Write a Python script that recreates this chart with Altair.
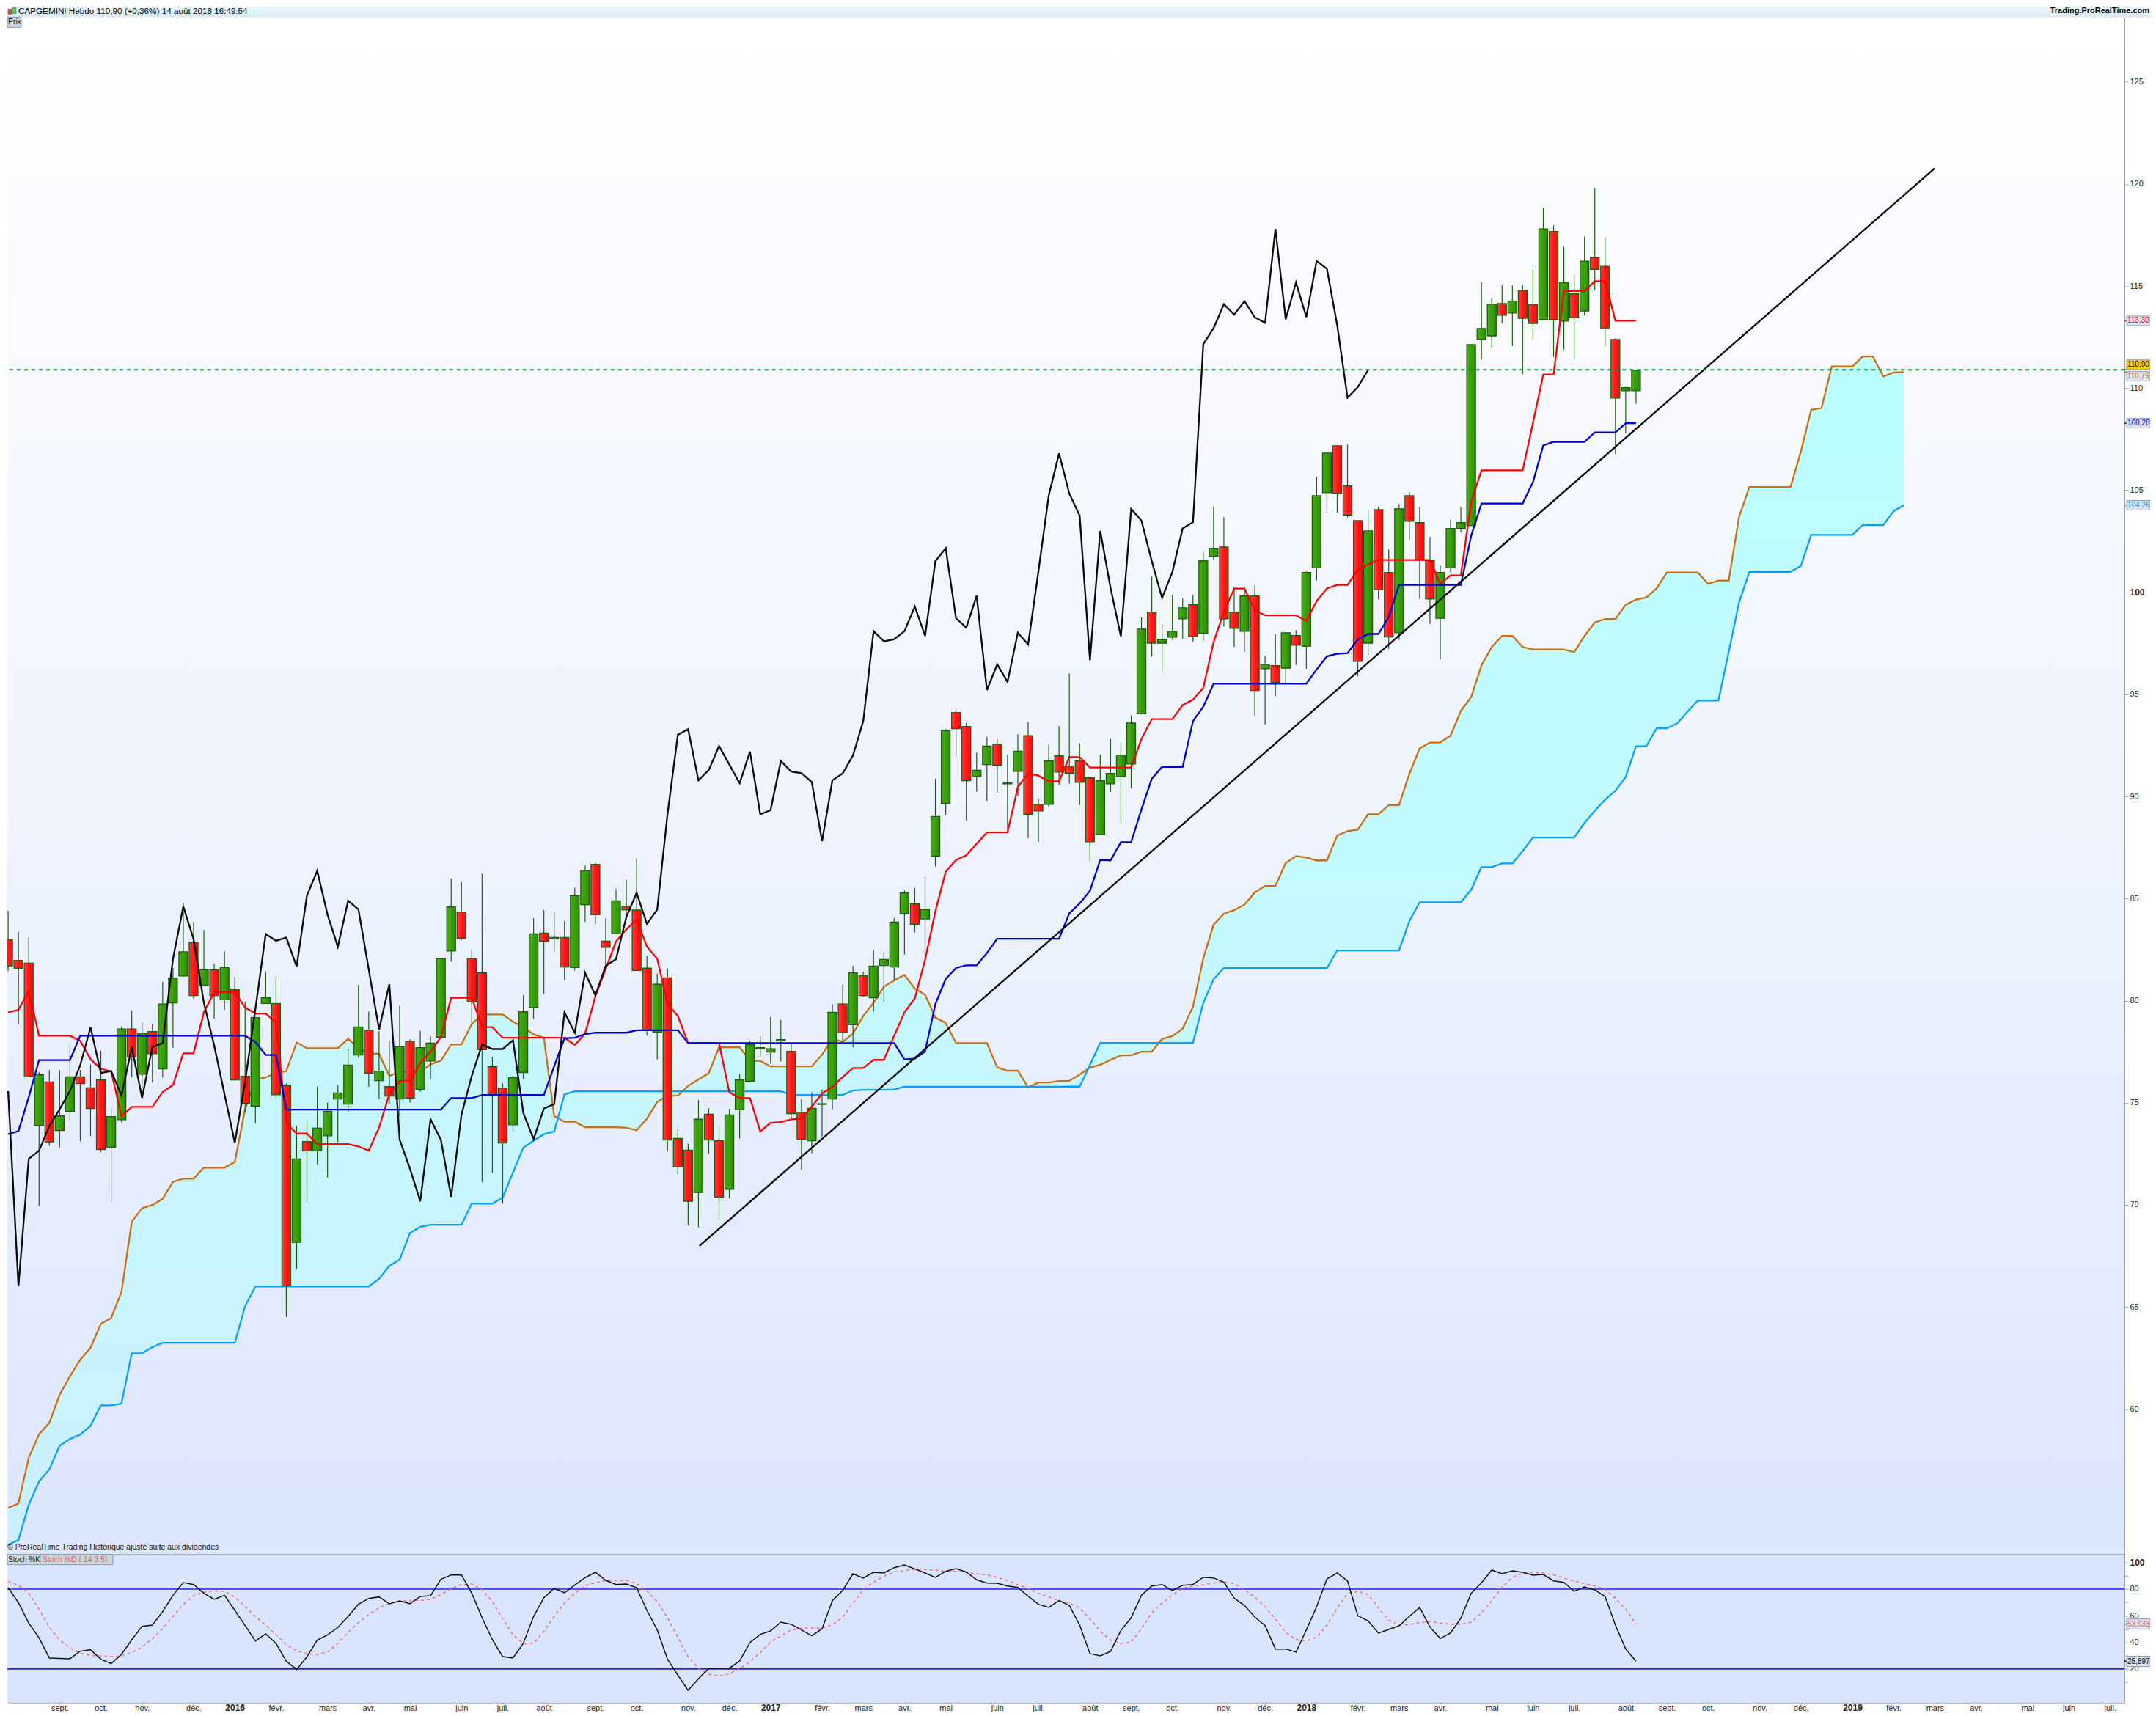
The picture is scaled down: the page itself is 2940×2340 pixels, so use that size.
import altair as alt
import pandas as pd

up = ("RRRGRGGRRR" "GGRGRGGGRG" "RGRRGGRRGR" "GGGGGRGRGR" "GGGGRRRRRG" "GGRGRGGRRG" "RRRGRRRGRR" "GGGRGGRRGG"
      "GRGRGGGGRG" "GGRRGGRGGR" "RGRRRRGGGG" "GRGGGRGGRR" "GRGRGRGGGR" "RRGRRGRRRG" "GGGGGRGRRG" "RGRGRRRGG")

body_top = [83.01,81.97,81.84,76.37,76.02,74.36,76.27,76.27,75.73,76.12,
74.32,78.61,78.61,78.40,78.49,79.83,81.11,82.39,82.84,81.51,
81.51,81.62,80.54,76.30,79.17,80.14,79.86,75.84,72.25,73.10,
73.75,74.57,75.48,76.84,78.71,78.56,76.55,75.79,77.74,78.00,
77.70,77.92,82.05,84.59,84.34,82.05,81.36,76.76,75.72,76.23,
79.46,83.27,83.31,83.09,83.09,85.14,86.37,86.68,82.91,84.89,
84.61,84.44,81.59,80.80,81.12,73.25,72.68,74.19,74.44,73.14,
74.40,76.12,77.85,77.70,77.64,78.09,77.52,74.54,74.72,74.95,
79.43,79.83,81.36,81.23,81.69,82.02,83.85,85.28,84.74,84.46,
89.02,93.22,94.11,93.43,91.28,92.47,92.57,90.66,92.22,92.98,
89.61,91.74,91.99,91.48,91.74,90.92,90.77,91.13,92.02,93.60,
98.20,99.03,97.68,98.09,99.24,99.39,101.55,102.16,102.22,99.03,
99.82,99.82,96.47,96.41,98.02,97.88,100.97,104.73,106.82,107.18,
105.21,103.51,103.01,104.05,100.97,104.09,104.73,103.41,101.55,100.97,
103.13,103.41,112.13,112.92,114.11,114.14,114.26,114.79,114.08,117.80,
117.67,115.18,114.62,116.22,116.40,115.97,112.38,110.02,110.88]

body_bot = [81.70,81.59,76.27,73.89,73.08,73.64,74.57,75.94,74.72,72.71,
72.82,74.17,77.24,76.40,77.40,76.66,79.89,81.21,80.25,80.75,
80.25,80.04,76.12,74.98,74.83,79.86,75.39,66.03,68.16,72.64,
72.64,73.38,75.18,74.93,77.34,76.45,76.08,75.33,75.18,75.23,
75.65,77.04,78.21,82.43,83.06,79.93,77.60,75.39,73.03,73.92,
76.48,79.66,82.91,83.02,81.65,81.62,84.70,84.21,82.61,83.27,
84.44,81.48,78.56,78.46,73.17,71.85,70.17,70.60,73.17,70.38,
70.76,74.65,76.05,77.64,77.48,78.03,74.47,73.20,73.14,74.92,
75.18,78.43,78.82,80.25,80.14,81.72,81.65,84.27,83.74,84.00,
87.08,89.66,93.32,90.77,90.98,91.56,91.53,90.62,91.23,89.12,
89.29,89.61,91.19,91.13,90.69,87.78,88.13,90.62,90.98,91.59,
94.06,97.51,97.51,97.80,98.70,97.84,97.99,101.76,98.70,98.23,
98.09,95.19,96.26,95.58,96.29,97.41,97.36,101.20,104.88,104.84,
103.78,96.62,97.51,100.12,97.81,98.02,103.48,101.58,99.67,98.73,
101.20,103.13,103.27,112.38,112.56,113.57,113.68,113.42,113.17,113.35,
113.35,113.28,113.45,113.78,115.82,112.95,109.51,109.87,109.87]

wick_top = [84.40,83.39,83.09,76.50,76.60,76.60,77.86,76.61,76.88,77.54,
74.72,78.74,79.52,78.98,78.86,80.92,81.60,84.76,83.86,83.46,
81.81,82.42,81.17,79.95,79.20,81.42,81.20,75.94,73.87,74.13,
75.79,75.01,75.84,77.61,80.77,79.47,78.49,78.04,79.75,78.10,
78.53,78.25,82.05,85.98,85.81,82.48,86.22,77.24,75.94,76.30,
80.26,84.04,84.43,84.37,83.92,85.53,86.62,86.74,84.04,85.47,
85.93,86.99,82.20,81.33,81.56,73.70,73.01,75.14,74.74,73.84,
74.71,76.42,78.03,78.28,79.19,79.06,77.86,75.17,75.51,75.65,
79.84,80.77,81.71,81.41,82.45,82.36,84.04,85.40,85.52,86.08,
90.86,93.30,94.31,93.60,92.16,92.92,92.81,92.05,93.05,93.67,
89.89,92.54,93.45,96.02,92.61,90.92,92.05,92.82,92.64,93.98,
98.79,100.77,98.44,99.87,99.69,99.87,101.99,104.21,103.68,100.27,
100.27,100.34,96.89,97.96,98.02,98.14,101.03,105.66,106.86,107.18,
107.23,103.51,104.02,104.20,102.10,104.33,104.90,104.18,102.71,101.31,
103.56,104.18,112.13,115.20,114.41,115.06,115.03,115.06,115.85,118.83,
117.97,116.92,115.52,117.43,119.80,117.38,112.44,110.06,110.90]

wick_bot = [81.45,78.82,76.27,69.94,72.89,72.82,74.11,73.11,73.37,72.59,
70.12,74.05,76.24,75.72,75.99,76.24,77.68,81.17,80.10,80.75,
79.11,79.55,76.12,74.53,73.99,79.86,75.18,64.51,66.85,70.03,
71.97,71.33,73.07,74.53,77.21,75.78,75.18,74.95,74.31,75.01,
75.54,76.14,78.21,81.91,82.97,78.85,71.12,71.55,70.06,73.59,
76.17,79.10,80.33,82.36,80.99,81.47,83.86,83.76,81.78,83.27,
84.00,81.48,78.30,77.12,72.62,71.51,69.00,68.90,72.50,69.30,
70.32,73.25,76.05,77.27,76.90,77.02,74.20,71.70,72.53,73.34,
74.68,77.86,77.72,80.19,79.46,79.95,80.99,82.26,83.34,82.18,
86.57,89.10,91.95,88.84,90.24,89.79,90.19,88.26,90.01,87.96,
87.78,89.47,90.56,90.62,89.58,86.78,88.13,90.22,88.68,90.40,
94.01,96.86,96.13,97.66,97.71,97.57,97.62,101.58,98.33,97.33,
97.08,93.95,93.52,94.91,95.55,96.44,96.26,100.59,103.87,103.90,
103.66,95.89,96.93,99.66,97.23,97.66,102.56,99.67,98.45,96.72,
100.97,102.93,103.27,111.40,112.01,113.17,112.07,110.69,112.37,113.35,
111.53,111.89,111.40,113.57,114.81,112.05,106.77,107.78,109.24]

tenkan = [79.43,79.55,80.48,78.28,78.28,78.28,78.28,78.03,77.13,76.66,
76.54,74.34,74.80,74.80,74.80,75.53,75.87,77.42,77.42,79.44,
80.41,80.41,80.41,79.66,79.37,79.37,78.92,74.01,73.49,73.49,
72.97,72.97,72.97,72.97,72.86,72.65,73.78,75.42,76.06,76.09,
76.94,77.51,78.21,80.14,80.14,80.14,78.70,78.70,78.18,78.18,
78.18,78.18,78.18,78.18,78.18,77.83,78.39,80.22,81.56,82.90,
83.49,83.98,82.64,82.05,79.84,79.25,77.92,77.92,77.92,77.92,
75.51,75.23,75.23,73.59,74.02,74.05,74.19,74.22,74.81,75.45,
75.78,76.26,76.70,76.70,77.10,77.10,78.28,79.43,80.11,82.00,
84.38,86.32,86.89,87.12,87.69,88.24,88.24,88.24,90.46,91.13,
91.02,90.74,90.74,91.93,91.93,91.42,91.42,91.42,91.42,91.42,
92.82,93.79,93.79,93.79,94.48,94.74,95.32,97.56,99.05,100.18,
100.18,99.11,98.87,98.87,98.87,98.87,98.60,99.57,100.19,100.36,
100.36,101.10,101.37,101.58,101.58,101.58,101.58,101.58,101.58,100.42,
100.83,100.83,104.44,105.97,105.97,105.97,105.97,105.97,108.30,110.67,
110.67,114.76,114.76,114.76,115.24,115.24,113.30,113.30,113.30]

kijun = [73.46,73.61,75.27,77.09,77.09,77.09,77.09,78.28,78.28,78.28,
78.28,78.28,78.28,78.28,78.28,78.28,78.28,78.28,78.28,78.28,
78.28,78.28,78.28,78.28,77.98,77.34,77.34,74.66,74.66,74.66,
74.66,74.66,74.66,74.66,74.66,74.66,74.66,74.66,74.66,74.66,
74.66,74.66,74.66,75.23,75.23,75.23,75.38,75.38,75.38,75.38,
75.38,75.38,75.38,76.79,78.16,78.18,78.36,78.43,78.43,78.43,
78.43,78.55,78.55,78.55,78.55,78.55,77.92,77.92,77.92,77.92,
77.92,77.92,77.92,77.92,77.92,77.92,77.92,77.92,77.92,77.92,
77.92,77.92,77.92,77.92,77.92,77.92,77.92,77.12,77.16,77.51,
79.84,81.06,81.60,81.73,81.73,82.33,83.03,83.03,83.03,83.03,
83.03,83.03,83.03,84.28,84.76,85.38,86.89,86.87,87.76,87.76,
89.37,90.87,91.45,91.45,91.45,93.69,94.40,95.52,95.52,95.52,
95.52,95.52,95.52,95.52,95.52,95.52,95.52,96.22,96.86,96.99,
97.02,97.69,97.96,97.96,98.79,100.36,100.36,100.36,100.36,100.36,
100.36,100.36,102.77,104.35,104.35,104.35,104.35,104.35,105.40,107.19,
107.37,107.37,107.37,107.37,107.83,107.83,107.83,108.28,108.28]

span_a = [55.16,55.37,57.61,58.76,59.32,60.70,61.60,62.41,63.00,64.17,
64.46,65.73,69.17,69.84,69.99,70.29,71.13,71.28,71.28,71.82,
71.82,71.82,72.10,74.68,76.14,76.24,76.46,76.55,77.95,77.67,
77.67,77.67,77.67,78.13,77.68,77.43,77.39,76.32,76.52,76.52,
76.52,76.88,77.06,77.85,77.85,78.85,79.32,79.32,79.32,78.97,
78.70,78.35,78.18,74.34,74.07,74.07,73.80,73.80,73.80,73.80,
73.77,73.65,74.22,75.04,75.33,75.35,75.82,76.14,76.45,77.72,
77.72,77.72,77.05,77.05,76.78,76.78,76.78,76.78,76.78,77.36,
78.15,77.98,78.39,79.25,79.89,80.69,80.99,81.26,80.59,80.29,
79.17,78.91,77.92,77.92,77.92,77.92,76.73,76.57,76.57,75.75,
75.99,75.99,76.06,76.07,76.38,76.72,76.86,77.10,77.32,77.32,
77.50,77.50,78.12,78.26,78.63,79.70,82.07,83.72,84.26,84.43,
84.71,85.30,85.62,85.62,86.74,87.08,87.01,86.87,86.87,88.09,
88.30,88.38,89.13,89.13,89.58,89.58,91.11,92.35,92.64,92.65,
92.98,94.19,94.87,96.42,97.32,97.86,97.86,97.32,97.20,97.20,
97.20,97.20,97.07,97.86,98.53,98.69,98.69,99.39,99.64,99.75,
100.19,100.97,100.97,100.97,100.97,100.41,100.58,100.58,103.69,105.16,
105.16,105.16,105.16,105.16,106.89,108.94,109.02,111.06,111.06,111.06,
111.55,111.55,110.57,110.77,110.79]

span_b = [53.36,53.58,55.31,56.45,57.04,58.21,58.53,58.75,59.18,60.18,
60.18,60.26,62.73,62.73,63.03,63.24,63.24,63.24,63.24,63.24,
63.24,63.24,63.24,65.03,66.00,66.00,66.00,66.00,66.00,66.00,
66.00,66.00,66.00,66.00,66.00,66.00,66.37,67.01,67.31,68.62,
68.92,69.02,69.02,69.02,69.02,70.06,70.06,70.06,70.36,71.58,
72.80,73.14,73.46,73.59,75.41,75.56,75.56,75.56,75.56,75.56,
75.56,75.56,75.56,75.56,75.56,75.56,75.56,75.56,75.56,75.56,
75.56,75.56,75.56,75.56,75.56,75.56,75.38,75.38,75.38,75.38,
75.38,75.38,75.60,75.63,75.63,75.63,75.65,75.78,75.78,75.78,
75.78,75.78,75.78,75.78,75.78,75.78,75.78,75.78,75.78,75.78,
75.78,75.78,75.78,75.79,75.79,76.86,77.93,77.93,77.93,77.93,
77.93,77.93,77.93,77.93,77.93,77.93,79.89,81.05,81.59,81.59,
81.59,81.59,81.59,81.59,81.59,81.59,81.59,81.59,81.59,82.46,
82.46,82.46,82.46,82.46,82.46,82.46,83.89,84.82,84.82,84.82,
84.82,84.82,85.43,86.54,86.54,86.72,86.72,87.32,87.99,87.99,
87.99,87.99,87.99,88.70,89.30,89.84,90.28,90.95,92.46,92.46,
93.34,93.34,93.58,94.15,94.70,94.70,94.70,97.08,99.50,101.00,
101.00,101.00,101.00,101.00,101.29,102.81,102.81,102.81,102.81,102.81,
103.29,103.29,103.29,103.97,104.26]

chikou = [75.57,66.01,72.25,72.65,73.86,74.68,75.57,76.84,78.70,76.46,
76.55,75.35,77.73,75.24,77.73,77.92,82.05,84.61,83.01,79.89,
77.80,75.42,73.04,76.02,79.59,83.27,82.93,83.09,81.67,85.14,
86.36,84.21,82.64,84.89,84.47,81.53,78.59,80.81,73.19,71.77,
70.17,74.19,73.19,70.39,74.42,76.32,77.85,77.63,77.63,78.06,
74.50,73.22,74.72,74.93,79.43,78.43,81.36,80.26,81.71,82.03,
84.09,85.28,83.76,84.46,89.15,93.02,93.30,90.79,91.29,92.47,
91.56,90.65,92.20,89.13,89.33,91.74,91.22,91.14,90.71,87.81,
90.79,91.13,92.01,93.70,98.10,97.60,97.70,98.10,99.30,97.87,
101.53,102.16,98.73,98.27,99.83,95.21,96.47,95.61,98.02,97.44,
101.03,104.74,106.80,104.83,103.76,96.67,103.01,100.21,97.85,104.08,
103.51,101.53,99.72,101.00,103.13,103.43,112.15,112.94,114.11,113.60,
114.26,113.47,113.20,117.80,113.37,115.18,113.48,116.23,115.84,113.07,
109.53,110.05,110.89]

stoch_k = [81.08,69.89,54.47,43.46,28.23,27.87,27.68,33.37,34.47,27.31,
24.01,30.98,41.99,52.09,53.00,63.10,75.39,84.93,83.47,76.86,
72.27,75.39,64.01,52.64,41.08,46.40,39.24,25.85,19.61,29.15,
41.63,45.66,51.17,59.43,68.60,73.01,74.11,68.97,71.17,68.97,
74.47,75.02,87.32,90.62,90.62,76.86,58.51,41.99,29.33,28.23,
39.24,59.43,73.56,80.53,77.23,83.10,88.60,92.64,86.59,83.47,
83.83,81.08,64.01,49.33,27.31,15.39,4.01,12.63,20.34,20.53,
20.53,26.03,39.79,46.03,48.60,55.21,53.56,49.33,44.93,50.25,
71.35,79.06,91.54,88.24,92.64,92.09,96.13,98.15,95.21,92.09,
88.79,93.37,95.39,92.82,86.95,84.57,84.38,82.36,81.26,74.66,
68.60,66.22,71.35,67.68,53.00,31.54,29.88,33.19,48.97,58.51,
75.39,82.36,83.47,78.88,82.92,83.47,88.97,88.42,85.12,73.19,
67.68,59.06,52.64,35.02,35.02,32.64,49.33,66.77,87.69,92.09,
86.03,59.98,56.12,46.95,49.70,52.45,59.43,66.22,51.54,42.91,
47.13,58.14,76.86,84.75,94.29,91.54,93.74,92.64,90.44,90.99,
86.22,85.12,78.33,81.63,79.43,74.47,53.00,35.02,25.90]

stoch_d = [85.67,82.92,76.86,64.93,51.17,41.99,35.57,31.90,30.25,29.70,
29.33,29.70,32.27,36.49,42.91,50.25,59.43,68.60,75.02,77.59,
78.69,78.33,74.11,66.77,59.43,53.00,45.66,38.32,33.74,31.35,
30.98,32.82,39.24,47.50,54.84,60.90,65.85,69.34,70.99,71.35,
71.72,72.27,75.94,80.16,83.47,83.83,79.61,70.44,57.59,45.66,
39.24,39.24,48.42,59.43,69.52,76.86,82.73,84.93,86.40,86.59,
86.40,84.20,78.69,70.44,58.51,43.83,29.15,20.34,15.94,14.84,
16.30,20.34,25.48,32.45,40.16,44.75,49.33,50.62,50.62,50.62,
53.37,58.88,69.52,79.61,85.12,89.70,92.82,93.93,94.84,94.84,
94.29,93.37,93.37,92.46,91.54,90.62,88.79,86.40,83.28,80.53,
76.86,74.11,71.35,69.52,65.85,57.59,48.42,41.63,39.24,40.16,
50.25,62.18,69.52,75.58,80.53,82.36,83.28,84.57,85.30,84.20,
79.61,74.11,66.77,57.59,47.50,41.99,41.08,43.83,53.00,65.85,
76.86,78.33,75.94,65.85,56.67,53.00,53.37,54.84,55.76,54.47,
53.56,53.56,55.21,62.18,71.35,81.45,88.79,91.91,92.46,92.09,
90.62,88.24,86.03,84.20,82.36,79.61,73.19,64.93,53.63]

trend_i = [67.1, 187.0]
trend_p = [67.99, 120.77]
last_price = 110.90

month_ticks = [5,9,13,18,22,26,31,35,39,44,48,52,57,61,66,70,74,79,83,87,91,96,100,105,109,113,118,122,126,
               131,135,139,144,148,152,157,161,165,170,174,179,183,187,191,196,200,204]
month_labels = ["sept.","oct.","nov.","déc.","2016","févr.","mars","avr.","mai","juin","juil.","août","sept.","oct.","nov.","déc.",
                "2017","févr.","mars","avr.","mai","juin","juil.","août","sept.","oct.","nov.","déc.",
                "2018","févr.","mars","avr.","mai","juin","juil.","août","sept.","oct.","nov.","déc.",
                "2019","févr.","mars","avr.","mai","juin","juil."]
year_ticks = [22, 74, 126, 179]
price_ticks = list(range(60, 130, 5))
stoch_ticks = list(range(10, 110, 10))

price_tags = [("113,30", 113.30, 113.30, "#ff0000", "#d8e2f2"),
              ("110,90", 110.90, 111.15, "#000000", "#ffcc00"),
              ("110,79", 110.79, 110.58, "#c87010", "#d8e2f2"),
              ("108,28", 108.28, 108.28, "#0000cc", "#d8e2f2"),
              ("104,26", 104.26, 104.26, "#0a9fff", "#d8e2f2")]
stoch_tags = [("53,633", 53.63, 53.74, "#f06060", "#d8e2f2"),
              ("25,897", 25.90, 25.70, "#000000", "#d8e2f2")]

FONT = "Liberation Sans"
PW, PH, SH, HH, TW = 2888, 2093, 205, 13, 2923
TAG_L, TAG_R = 3, 35
X_DOM = [-0.078, 205.41]
P_DOM = [53.02, 128.17]
S_DOM = [-5.17, 107.69]
GRID = "#97a3ad"
WICK = "#1e5c10"

def grad(stops, horizontal=False):
    n = len(stops) - 1
    g = {"gradient": "linear", "stops": [{"offset": k / n, "color": c} for k, c in enumerate(stops)]}
    g.update({"x1": 0, "x2": 1, "y1": 0, "y2": 0} if horizontal else {"x1": 0, "x2": 0, "y1": 0, "y2": 1})
    return g

X_SCALE = alt.Scale(domain=X_DOM, nice=False, zero=False, padding=0)
P_SCALE = alt.Scale(domain=P_DOM, nice=False, zero=False, padding=0)
S_SCALE = alt.Scale(domain=S_DOM, nice=False, zero=False, padding=0)
X_PLAIN = alt.X("i:Q", scale=X_SCALE, axis=None)
label_map = "{" + ",".join(f'"{t}":"{l}"' for t, l in zip(month_ticks, month_labels)) + "}"
year_test = " || ".join(f"datum.value == {y}" for y in year_ticks)
X_AXIS = alt.X("i:Q", scale=X_SCALE,
               axis=alt.Axis(values=month_ticks, labelExpr=label_map + "['' + datum.value]", title=None, grid=False,
                             tickSize=2, tickColor=GRID, domainColor=GRID, labelColor="#222222", labelFont=FONT,
                             labelPadding=0, labelOverlap=False, labelFlush=False,
                             labelFontSize={"condition": {"test": year_test, "value": 12}, "value": 11},
                             labelFontWeight={"condition": {"test": year_test, "value": "bold"}, "value": "normal"}))
def axis_y(values, big, expr=None):
    kw = dict(labelExpr=expr) if expr else {}
    return alt.Axis(values=values, orient="right", title=None, grid=False, tickSize=5, tickColor=GRID, domainColor=GRID,
                    labelColor="#222222", labelFont=FONT, labelPadding=2, labelOverlap=False, labelFlush=False,
                    labelFontSize={"condition": {"test": f"datum.value == {big}", "value": 12}, "value": 11},
                    labelFontWeight={"condition": {"test": f"datum.value == {big}", "value": "bold"}, "value": "normal"}, **kw)
P_AXIS = axis_y(price_ticks, 100)
S_AXIS = axis_y(stoch_ticks, 100, "datum.value % 20 == 0 ? datum.value : ''")
Y_P = alt.Y("p:Q", scale=P_SCALE, axis=P_AXIS)
Y_P2 = alt.Y2("p2:Q")
Y_S = alt.Y("p:Q", scale=S_SCALE, axis=S_AXIS)

def series(vals):
    return pd.DataFrame({"i": range(len(vals)), "p": vals})

one = alt.Data(values=[{}])
def box(x0, x1, y0, y1, **kw):
    return alt.Chart(one).mark_rect(**kw).encode(x=alt.value(x0), x2=alt.value(x1), y=alt.value(y0), y2=alt.value(y1))
def label(txt, x, y, color="#000000", size=11, weight="normal", align="left", **kw):
    return alt.Chart(one).mark_text(text=txt, font=FONT, fontSize=size, fontWeight=weight, color=color, align=align,
                                    baseline="middle", **kw).encode(x=alt.value(x), y=alt.value(y))
def line(vals, color, width, chart_y=Y_P, x=X_PLAIN, **kw):
    return alt.Chart(series(vals)).mark_line(color=color, strokeWidth=width, clip=True, **kw).encode(x=x, y=chart_y)

def tags(table, y_enc, scale, axis, h):
    df = pd.DataFrame(table, columns=["t", "p", "lab", "color", "fill"])
    yl = alt.Y("lab:Q", scale=scale, axis=axis)
    tick = alt.Chart(df).mark_rule(strokeWidth=1.5).encode(x=alt.value(PW), x2=alt.value(PW + TAG_L), y=y_enc,
                                                            color=alt.Color("color:N", scale=None))
    rect = alt.Chart(df).mark_rect(height=h, stroke="#8c9bb0", strokeWidth=1).encode(
        x=alt.value(PW + TAG_L), x2=alt.value(PW + TAG_R), y=yl, fill=alt.Fill("fill:N", scale=None))
    text = alt.Chart(df).mark_text(font=FONT, fontSize=10, align="left", baseline="middle").encode(
        x=alt.value(PW + TAG_L + 1), y=yl, text="t:N", color=alt.Color("color:N", scale=None))
    return [tick, rect, text]

# header
header = alt.layer(
    box(0, TW, 0, HH, fill=grad(["#eaf7fc", "#d6eaf4"])),
    box(1, 6, 3, 10, fill="#e05050", stroke="#444444", strokeWidth=0.5),
    box(7, 12, 1, 9, fill="#40e040", stroke="#444444", strokeWidth=0.5),
    label("CAPGEMINI   Hebdo   110,90 (+0,36%)   14 août 2018 16:49:54", 15, 5.5, size=11.7, clip=True),
    label("Trading.ProRealTime.com", TW - 1, 5.5, weight="bold", align="right", clip=True),
).properties(width=TW, height=HH)

# price panel
cdf = pd.DataFrame({"i": range(len(up)), "p": body_top, "p2": body_bot, "hi": wick_top, "lo": wick_bot, "up": list(up)})
wicks = alt.Chart(cdf).mark_rule(color=WICK, strokeWidth=1.2, clip=True).encode(
    x=X_PLAIN, y=alt.Y("hi:Q", scale=P_SCALE, axis=P_AXIS), y2="lo:Q")
def bodies(flag, stops):
    return alt.Chart(cdf[cdf.up == flag]).mark_bar(size=12, fill=grad(stops, True), stroke=WICK, strokeWidth=1.3, clip=True
                                                   ).encode(x=X_PLAIN, y=Y_P, y2=Y_P2)
cloud = alt.Chart(pd.DataFrame({"i": range(len(span_a)), "p": span_a, "p2": span_b})).mark_area(
    fill=grad(["#bafdff", "#c4f8ff", "#ccf0ff"]), clip=True).encode(x=X_PLAIN, y=Y_P, y2=Y_P2)
trend = alt.Chart(pd.DataFrame({"i": trend_i, "p": trend_p})).mark_line(color="#000000", strokeWidth=2.3, clip=True).encode(x=X_PLAIN, y=Y_P)
last = alt.Chart(pd.DataFrame({"p": [last_price]})).mark_rule(color="#009438", strokeWidth=2, strokeDash=[5, 5]).encode(y=Y_P)

price = alt.layer(
    box(0, PW, 0, PH, fill=grad(["#ffffff", "#f0f4ff", "#dce6ff"])),
    cloud,
    line(span_a, "#c8700f", 2.3),
    line(span_b, "#0a9fff", 2.3),
    wicks,
    bodies("G", ["#46ab14", "#3a9f0c", "#2c8a05"]),
    bodies("R", ["#ff4040", "#ff1818", "#f41010"]),
    line(tenkan, "#ff0000", 2.3),
    line(kijun, "#0000cc", 2.3),
    line(chikou, "#0a0a0a", 2.3),
    trend, last,
    box(0, 19, 0, 14, fill="#c8d6de", stroke="#8c9bb0", strokeWidth=1),
    label("Prix", 1, 7, color="#222222", size=10.5),
    label("© ProRealTime Trading  Historique ajusté suite aux dividendes", 0, PH - 6, color="#111111", size=10.5),
    *tags(price_tags, Y_P, P_SCALE, P_AXIS, 13),
).properties(width=PW, height=PH)

# stochastic panel
rules = alt.Chart(pd.DataFrame({"p": [80, 20]})).mark_rule(color="#2424dd", strokeWidth=1.6).encode(y=Y_S)
sep = alt.Chart(pd.DataFrame({"p": [105.87]})).mark_rule(color=GRID, strokeWidth=1.5).encode(y=Y_S)
stoch = alt.layer(
    box(0, PW, 0, SH, fill="#d9e5ff"),
    sep, rules,
    line(stoch_d, "#f07070", 1.5, chart_y=Y_S, x=X_AXIS, strokeDash=[4, 4]),
    line(stoch_k, "#111111", 1.5, chart_y=Y_S, x=X_AXIS),
    box(0, 45, 3, 17, fill="#c8d6de", stroke="#8c9bb0", strokeWidth=1),
    box(45, 144, 3, 17, fill="#c8d6de", stroke="#8c9bb0", strokeWidth=1),
    label("Stoch %K", 1, 10, color="#222222", size=10),
    label("Stoch %D ( 14 3 5)", 48, 10, color="#f06060", size=10.5),
    *tags(stoch_tags, Y_S, S_SCALE, S_AXIS, 14),
).properties(width=PW, height=SH)

PAD = {"left": 0, "right": -1, "top": 0, "bottom": 0}
chart = alt.vconcat(header, price, stoch, spacing=-2, padding=PAD) \
    .configure_view(stroke=GRID, strokeWidth=1.5).configure(background="#ffffff", padding=PAD)
chart.save("out.html", embed_options={"renderer": "svg", "actions": False})
